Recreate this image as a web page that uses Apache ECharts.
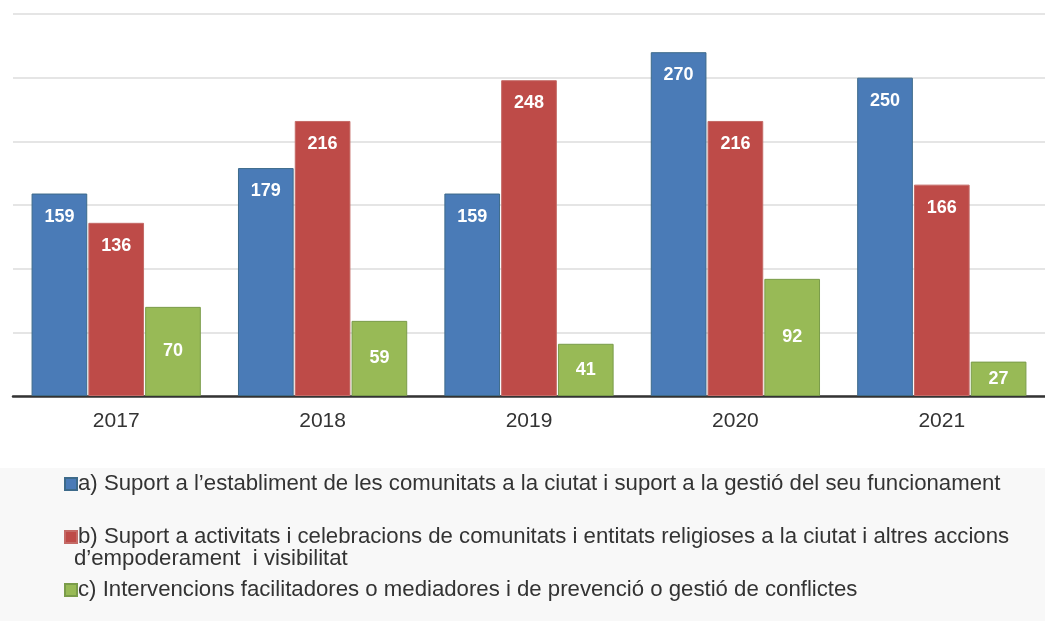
<!DOCTYPE html>
<html><head><meta charset="utf-8">
<script src="https://cdn.jsdelivr.net/npm/echarts@6/dist/echarts.min.js"></script>
<style>html,body{margin:0;padding:0;background:#fff}#c{width:1045px;height:621px}</style>
</head><body><div id="c"></div>
<script>
const years = ['2017','2018','2019','2020','2021'];
const seriesA = [159, 179, 159, 270, 250];
const seriesB = [136, 216, 248, 216, 166];
const seriesC = [70, 59, 41, 92, 27];
const nameA = "a) Suport a l’establiment de les comunitats a la ciutat i suport a la gestió del seu funcionament";
const nameB = "b) Suport a activitats i celebracions de comunitats i entitats religioses a la ciutat i altres accions";
const nameB2 = "d’empoderament  i visibilitat";
const nameC = "c) Intervencions facilitadores o mediadores i de prevenció o gestió de conflictes";
const colA = '#4a7bb7', colB = '#be4b48', colC = '#98ba56';

const chart = echarts.init(document.getElementById('c'));
const font = 'Liberation Sans, Arial, sans-serif';
const legendSize = 22.2;
function bar(name, data, color, border, pos, dist) {
  return {
    name, type: 'bar', data, barGap: '2%', barCategoryGap: '18%',
    itemStyle: { color, borderColor: border, borderWidth: 1 },
    label: { show: true, position: pos, distance: dist, color: '#fff', fontWeight: 'bold', fontSize: 18, fontFamily: font },
    emphasis: { disabled: true }
  };
}
function lg(name, top) {
  return {
    data: [name], left: 59, top, itemWidth: 12, itemHeight: 12, itemGap: 0,
    icon: 'rect', selectedMode: false,
    textStyle: { fontSize: legendSize, color: '#333', fontFamily: font, padding: [0,0,0,-4] }
  };
}
chart.setOption({
  animation: false,
  backgroundColor: '#fff',
  graphic: [
    { type: 'rect', left: 0, top: 468, shape: { width: 1045, height: 153 }, style: { fill: '#f8f8f8' }, z: -10 },
    { type: 'text', x: 74, y: 559, style: { text: nameB2, fontSize: legendSize, fill: '#333', fontFamily: font, verticalAlign: 'middle' } }
  ],
  grid: { left: 13, right: 0, top: 14, bottom: 225 },
  legend: [lg(nameA, 468), lg(nameB, 521), lg(nameC, 574)],
  xAxis: {
    type: 'category', data: years,
    axisLine: { lineStyle: { color: '#333', width: 2.5 } },
    axisTick: { show: false },
    axisLabel: { fontSize: 21, color: '#333', margin: 15, fontFamily: font }
  },
  yAxis: {
    type: 'value', min: 0, max: 300, interval: 50,
    axisLabel: { show: false }, axisLine: { show: false }, axisTick: { show: false },
    splitLine: { lineStyle: { color: '#dcdcdc', width: 1.5 } }
  },
  series: [
    bar(nameA, seriesA, colA, '#3d6a8a', 'insideTop', 14),
    bar(nameB, seriesB, colB, '#c46a66', 'insideTop', 14),
    bar(nameC, seriesC, colC, '#7a9c4a', 'inside', 0)
  ]
});
</script></body></html>
